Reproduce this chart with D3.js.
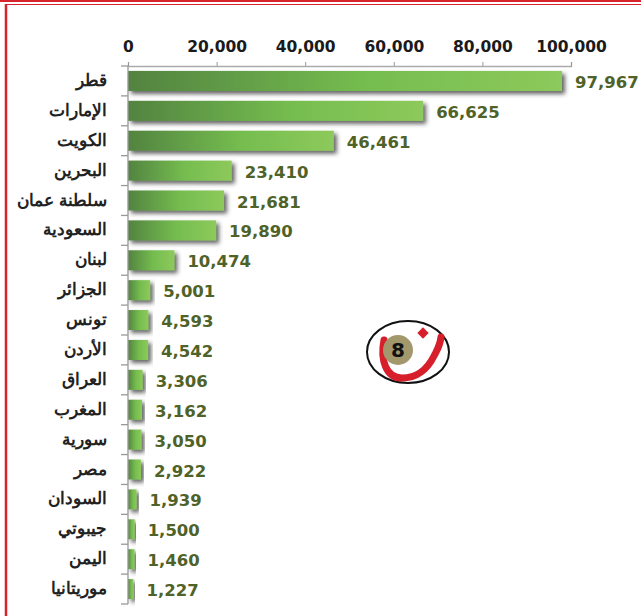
<!DOCTYPE html>
<html><head><meta charset="utf-8">
<script src="https://cdn.jsdelivr.net/npm/d3@7"></script>
<style>body{margin:0;background:#fff}svg{display:block}</style>
</head><body>
<script>
const categories = ["قطر","الإمارات","الكويت","البحرين","سلطنة عمان","السعودية","لبنان","الجزائر","تونس","الأردن","العراق","المغرب","سورية","مصر","السودان","جيبوتي","اليمن","موريتانيا"];
const values = [97967,66625,46461,23410,21681,19890,10474,5001,4593,4542,3306,3162,3050,2922,1939,1500,1460,1227];
const tickValues = [0,20000,40000,60000,80000,100000];

const W = 641, H = 616;
const svg = d3.select("body").append("svg").attr("width", W).attr("height", H);
const defs = svg.append("defs");
const g = defs.append("linearGradient").attr("id","bg").attr("x1","0").attr("x2","1").attr("y1","0").attr("y2","0");
g.append("stop").attr("offset","0%").attr("stop-color","#528340");
g.append("stop").attr("offset","55%").attr("stop-color","#75bd4f");
g.append("stop").attr("offset","100%").attr("stop-color","#8dc95b");
const f = defs.append("filter").attr("id","sh").attr("x","-10%").attr("y","-50%").attr("width","130%").attr("height","220%");
f.append("feDropShadow").attr("dx",3).attr("dy",3).attr("stdDeviation",2).attr("flood-color","#333").attr("flood-opacity",0.75);

// border
svg.append("line").attr("x1",0).attr("x2",W).attr("y1",1).attr("y2",1).attr("stroke","#d8232f").attr("stroke-width",2);
svg.append("line").attr("x1",5).attr("x2",W).attr("y1",4.5).attr("y2",4.5).attr("stroke","#d8232f").attr("stroke-width",1.2);
svg.append("line").attr("x1",6).attr("x2",6).attr("y1",4).attr("y2",H).attr("stroke","#d8232f").attr("stroke-width",2.5);

const x = d3.scaleLinear().domain([0,100000]).range([128,571]);
const y = d3.scaleBand().domain(categories).range([66,604]).paddingInner(0.33).paddingOuter(0.165);

// bars
svg.append("g").selectAll("rect").data(values).join("rect")
  .attr("x", x(0)).attr("y",(d,i)=>y(categories[i]))
  .attr("width", d=>x(d)-x(0)).attr("height", y.bandwidth())
  .attr("fill","url(#bg)").attr("filter","url(#sh)");

// top axis
const ax = svg.append("g").attr("transform","translate(0,66)")
  .call(d3.axisTop(x).tickValues(tickValues).tickFormat(d3.format(",")).tickSizeInner(4).tickSizeOuter(4).tickPadding(10));
ax.select(".domain").attr("stroke","#aaa").attr("stroke-width",1.3);
ax.selectAll(".tick line").attr("stroke","#999");
ax.selectAll("text").attr("font-family","DejaVu Sans").attr("font-weight","bold").attr("font-size","15.5px").attr("fill","#1a1a1a");

// left axis line and ticks at band boundaries
const bounds = categories.map(c=>y(c)-y.step()*y.paddingInner()/2);
bounds.push(604);
svg.append("line").attr("x1",128).attr("x2",128).attr("y1",66).attr("y2",604).attr("stroke","#999").attr("stroke-width",1.3);
svg.append("g").selectAll("line").data(bounds).join("line")
  .attr("x1",121).attr("x2",128).attr("y1",d=>Math.max(66,d)).attr("y2",d=>Math.max(66,d)).attr("stroke","#999").attr("stroke-width",1.3);

// category labels
svg.append("g").selectAll("text").data(categories).join("text")
  .attr("x",107).attr("y",c=>y(c)+y.bandwidth()/2+5)
  .attr("text-anchor","end")
  .attr("font-family","Liberation Sans, Arial").attr("font-weight","bold").attr("font-size","16.5px").attr("fill","#222")
  .text(c=>c);

// value labels
svg.append("g").selectAll("text").data(values).join("text")
  .attr("x",d=>x(d)+13).attr("y",(d,i)=>y(categories[i])+y.bandwidth()/2+7)
  .attr("font-family","DejaVu Sans").attr("font-weight","bold").attr("font-size","16.5px").attr("fill","#4f6228")
  .text(d=>d3.format(",")(d));

// logo
const lg = svg.append("g");
lg.append("ellipse").attr("cx",408).attr("cy",352).attr("rx",41).attr("ry",31).attr("fill","#fff").attr("stroke","#111").attr("stroke-width",2);
lg.append("path").attr("d","M384,340 C380,360 386,378 402,378 C418,378 428,368 434,356 C437,350 440,346 441,337")
  .attr("fill","none").attr("stroke","#d71f2c").attr("stroke-width",7).attr("stroke-linecap","round");
lg.append("circle").attr("cx",398).attr("cy",350).attr("r",15).attr("fill","#a3976c");
lg.append("text").attr("x",398).attr("y",357).attr("text-anchor","middle").attr("font-family","DejaVu Sans").attr("font-weight","bold").attr("font-size","20px").attr("fill","#111").text("8");
lg.append("rect").attr("x",-4).attr("y",-4).attr("width",8).attr("height",8).attr("fill","#d71f2c").attr("transform","translate(423,333) rotate(45)");
</script>
</body></html>
